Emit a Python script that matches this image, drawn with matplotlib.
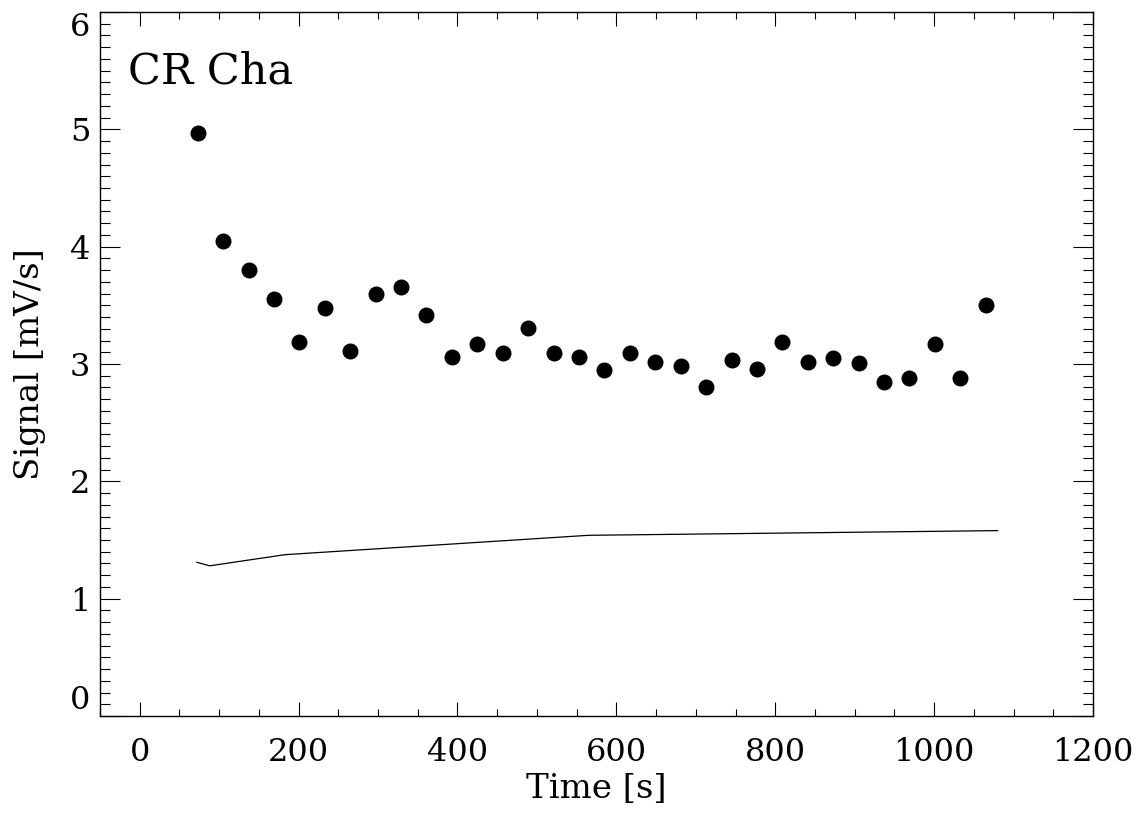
import matplotlib
matplotlib.use('Agg')
import matplotlib.pyplot as plt
from matplotlib.ticker import MultipleLocator

plt.rcParams['font.family'] = ['DejaVu Serif']

# measured signal (dots)
time_s = [73, 105, 137, 169, 201, 233, 265, 297, 329, 361, 393, 425, 457, 489, 521, 553,
          585, 617, 649, 681, 713, 745, 777, 809, 841, 873, 905, 937, 969, 1001, 1033, 1065]
signal = [4.97, 4.05, 3.80, 3.55, 3.19, 3.48, 3.11, 3.60, 3.66, 3.42, 3.06, 3.17, 3.09, 3.31, 3.09, 3.06,
          2.95, 3.09, 3.02, 2.98, 2.80, 3.03, 2.96, 3.19, 3.02, 3.05, 3.01, 2.85, 2.88, 3.17, 2.88, 3.50]

# reference curve (solid line)
ref_time = [72, 88, 183, 565, 1080]
ref_signal = [1.31, 1.28, 1.375, 1.54, 1.58]

xticks = [0, 200, 400, 600, 800, 1000, 1200]
yticks = [0, 1, 2, 3, 4, 5, 6]

fig = plt.figure(figsize=(11.48, 8.13), dpi=100)
ax = fig.add_axes([100 / 1148, 1 - 716 / 813, 993 / 1148, 704 / 813])

ax.plot(time_s, signal, 'o', color='black', ms=10.5, mec='black')
ax.plot(ref_time, ref_signal, '-', color='black', lw=0.9)

ax.set_xlim(-50, 1200)
ax.set_ylim(0, 6)
ax.set_xticks(xticks)
ax.set_yticks(yticks)
ax.xaxis.set_minor_locator(MultipleLocator(50))
ax.yaxis.set_minor_locator(MultipleLocator(0.1))

for s in ax.spines.values():
    s.set_linewidth(1.0)

ax.tick_params(axis='both', which='both', direction='in', width=0.8, labelsize=23)
ax.tick_params(axis='x', which='major', length=10, pad=15, top=True)
ax.tick_params(axis='x', which='minor', length=5, top=True)
ax.tick_params(axis='y', which='major', length=14.4, pad=7, right=True)
ax.tick_params(axis='y', which='minor', length=7.2, right=True)

ax.set_xlabel('Time [s]', fontsize=24.5, labelpad=4)
ax.set_ylabel('Signal [mV/s]', fontsize=24.5, labelpad=17)

ax.text(0.028, 0.899, 'CR Cha', transform=ax.transAxes, fontsize=31, va='baseline', ha='left')

# end labels sit inside the axis range, as in the original
ticks = ax.yaxis.get_major_ticks()
ticks[0].label1.set_va('bottom')
ticks[-1].label1.set_va('top')

fig.savefig('out.png', dpi=100)
